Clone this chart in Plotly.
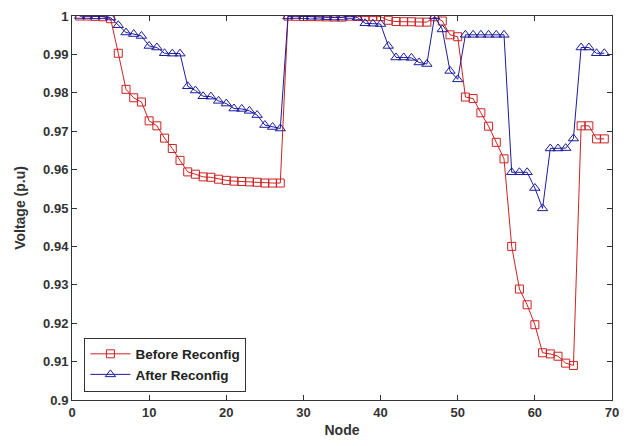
import plotly.graph_objects as go

nodes = list(range(1, 70))

before_reconfig = [
    1.0000, 1.0000, 0.9999, 0.9998, 0.9993, 0.9903, 0.9809, 0.9787, 0.9776, 0.9727,
    0.9714, 0.9682, 0.9655, 0.9624, 0.9594, 0.9588, 0.9581, 0.9580, 0.9575, 0.9572,
    0.9570, 0.9569, 0.9568, 0.9567, 0.9565, 0.9565, 0.9565, 0.99997, 0.99993, 0.99985,
    0.99984, 0.99981, 0.99977, 0.99972, 0.99971, 0.99996, 0.99986, 0.99983, 0.99983, 0.99983,
    0.99889, 0.99855, 0.99851, 0.99850, 0.99841, 0.99840, 0.99979, 0.9987, 0.9951, 0.9946,
    0.9789, 0.9785, 0.9748, 0.9713, 0.9671, 0.9628, 0.9400, 0.9289, 0.9248, 0.9196,
    0.9123, 0.9120, 0.9114, 0.9096, 0.9090, 0.9714, 0.9714, 0.9680, 0.9680,
]

after_reconfig = [
    1.0000, 1.0000, 0.9999, 0.9999, 0.9996, 0.9976, 0.9957, 0.9953, 0.9948, 0.9922,
    0.9918, 0.9903, 0.9902, 0.9902, 0.9817, 0.9806, 0.9791, 0.9790, 0.9779, 0.9772,
    0.9759, 0.9758, 0.9753, 0.9742, 0.9716, 0.9711, 0.9707, 0.9999, 1.0000, 0.9999,
    0.9998, 0.9998, 0.9997, 0.9996, 0.9996, 1.0000, 0.9996, 0.9981, 0.9980, 0.9979,
    0.9922, 0.9892, 0.9892, 0.9891, 0.9879, 0.9875, 0.9999, 0.9965, 0.9857, 0.9835,
    0.9951, 0.9951, 0.9951, 0.9951, 0.9951, 0.9951, 0.9593, 0.9593, 0.9593, 0.9552,
    0.9499, 0.9655, 0.9655, 0.9656, 0.9681, 0.9918, 0.9918, 0.9903, 0.9903,
]

x_ticks = [0, 10, 20, 30, 40, 50, 60, 70]
y_ticks = [0.9, 0.91, 0.92, 0.93, 0.94, 0.95, 0.96, 0.97, 0.98, 0.99, 1.0]
y_tick_labels = ["0.9", "0.91", "0.92", "0.93", "0.94", "0.95", "0.96", "0.97", "0.98", "0.99", "1"]

RED = "#cc2222"
BLUE = "#1c1c9e"
FONT = "Liberation Sans, Arial, sans-serif"

fig = go.Figure()
fig.add_trace(go.Scatter(
    x=nodes, y=before_reconfig, mode="lines+markers", name="Before Reconfig",
    line=dict(color=RED, width=1),
    marker=dict(symbol="square-open", size=8, color=RED, line=dict(width=1)),
))
fig.add_trace(go.Scatter(
    x=nodes, y=after_reconfig, mode="lines+markers", name="After Reconfig",
    line=dict(color=BLUE, width=1),
    marker=dict(symbol="triangle-up-open", size=9, color=BLUE, line=dict(width=1)),
))

axis_common = dict(
    showline=True, linecolor="#333333", linewidth=1, mirror="ticks",
    ticks="inside", ticklen=5, tickcolor="#333333",
    showgrid=False, zeroline=False, automargin=False,
    ticklabeloverflow="allow",
    tickfont=dict(family=FONT, size=13, color="#333333", weight="bold"),
)

fig.update_xaxes(
    range=[0, 70], tickvals=x_ticks,
    title=dict(text="Node", font=dict(family=FONT, size=14, color="#333333", weight="bold"), standoff=6),
    **axis_common,
)
fig.update_yaxes(
    range=[0.9, 1.0], tickvals=y_ticks, ticktext=y_tick_labels,
    title=dict(text="Voltage (p.u)", font=dict(family=FONT, size=14, color="#333333", weight="bold"), standoff=14),
    **axis_common,
)

fig.update_layout(
    width=621, height=438,
    margin=dict(l=64, r=17, t=8, b=46),
    paper_bgcolor="white", plot_bgcolor="white",
    showlegend=True,
    legend=dict(
        x=0.023, y=0.022, xanchor="left", yanchor="bottom",
        bgcolor="white", bordercolor="#333333", borderwidth=1,
        font=dict(family=FONT, size=13.5, color="#222222", weight="bold"),
        tracegroupgap=0, itemwidth=40,
    ),
)

fig.write_html("out.html")
